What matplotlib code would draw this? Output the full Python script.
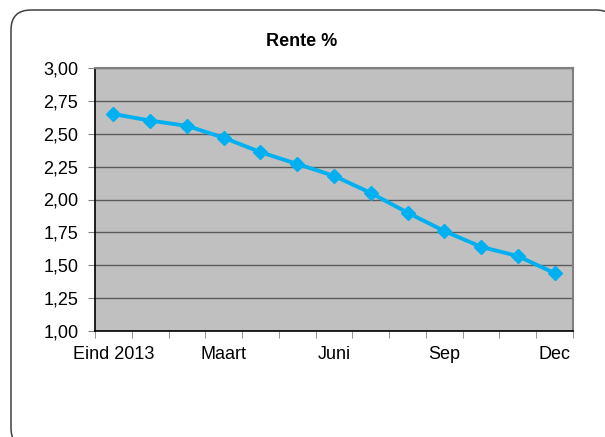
import matplotlib
matplotlib.use("Agg")
import matplotlib.pyplot as plt
from matplotlib.patches import FancyBboxPatch
import numpy as np

plt.rcParams.update({
    "font.family": "sans-serif",
    "font.sans-serif": ["Liberation Sans", "Arial", "DejaVu Sans"],
})

# monthly interest rate, end 2013 through December
months = ["Eind 2013", "Jan", "Feb", "Maart", "Apr", "Mei", "Juni",
          "Juli", "Aug", "Sep", "Okt", "Nov", "Dec"]
rente = [2.65, 2.60, 2.56, 2.47, 2.36, 2.27, 2.18, 2.05, 1.90, 1.76, 1.64, 1.57, 1.44]
shown_labels = ["Eind 2013", "Maart", "Juni", "Sep", "Dec"]
yticks = [1.00, 1.25, 1.50, 1.75, 2.00, 2.25, 2.50, 2.75, 3.00]

W, H = 605, 437
fig = plt.figure(figsize=(W / 100, H / 100), dpi=100)

# rounded chart frame (inches), running off the right and bottom edge
frame = FancyBboxPatch((0.11, (H - 448) / 100), 6.05, 4.38,
                       boxstyle="round,pad=0,rounding_size=0.2",
                       transform=fig.dpi_scale_trans, facecolor="white",
                       edgecolor="#404040", linewidth=1.1, zorder=-1)
fig.patches.append(frame)

ax = fig.add_axes([95 / W, 1 - 331 / H, (573 - 95) / W, (331 - 68) / H])
ax.set_facecolor("#C0C0C0")

x = np.arange(len(months))
ax.plot(x, rente, color="#00B0F0", linewidth=2.8, marker="D",
        markersize=7, zorder=3)

ax.set_xlim(-0.5, len(months) - 0.5)
ax.set_ylim(1.0, 3.0)

ax.set_yticks(yticks)
ax.set_yticklabels([f"{v:.2f}".replace(".", ",") for v in yticks])
ax.grid(axis="y", color="#5A5A5A", linewidth=1.0)
ax.set_axisbelow(True)

idx = [months.index(m) for m in shown_labels]
ax.set_xticks(idx)
ax.set_xticklabels(shown_labels)
ax.set_xticks(np.arange(-0.5, len(months)), minor=True)
ax.tick_params(axis="x", which="major", length=0, pad=11, labelsize=13)
ax.tick_params(axis="x", which="minor", length=5, color="#808080")
ax.tick_params(axis="y", length=5, color="#808080", pad=7, labelsize=13)

for s in ("top", "right"):
    ax.spines[s].set_color("#808080")
    ax.spines[s].set_linewidth(1.5)
for s in ("left", "bottom"):
    ax.spines[s].set_color("black")
    ax.spines[s].set_linewidth(1.2)

fig.text(302 / W, 1 - 41 / H, "Rente %", ha="center", va="center",
         fontsize=13, fontweight="bold")

fig.savefig("out.png", dpi=100)
